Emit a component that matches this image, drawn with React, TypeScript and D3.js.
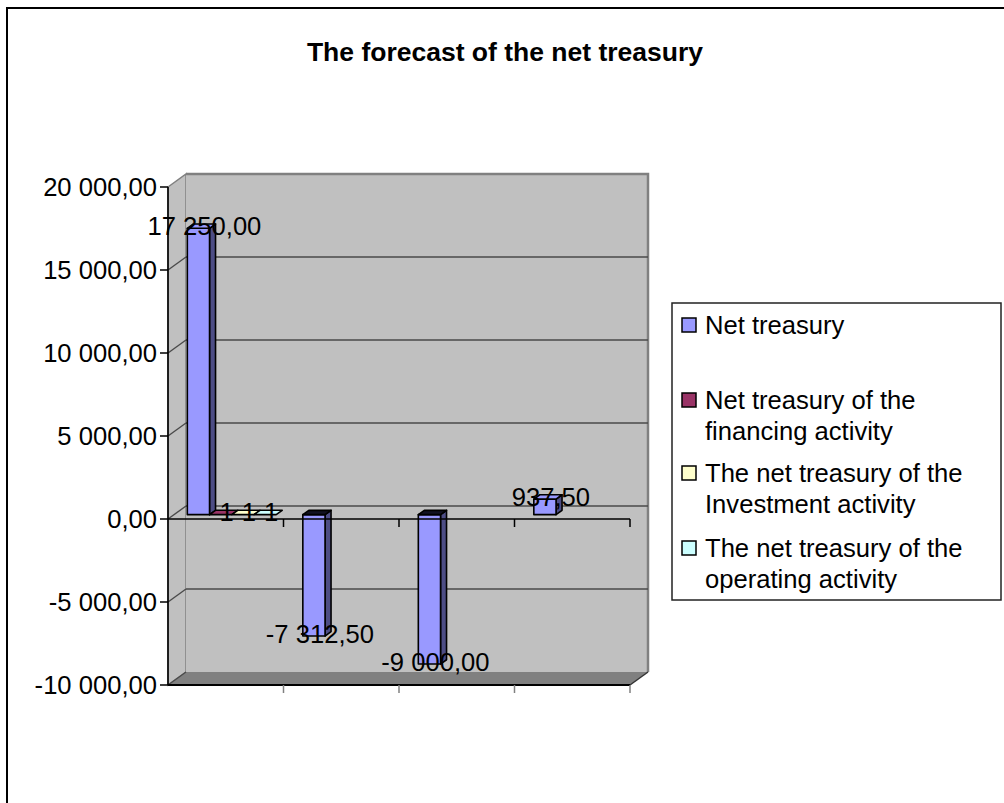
import React from "react";
import * as d3 from "d3";

const categories = ["P1", "P2", "P3", "P4"];
const seriesNames = [
  "Net treasury",
  "Net treasury of the financing activity",
  "The net treasury of the Investment activity",
  "The net treasury of the operating activity",
];
const legendLines = [
  ["Net treasury"],
  ["Net treasury of the", "financing activity"],
  ["The net treasury of the", "Investment activity"],
  ["The net treasury of the", "operating activity"],
];
const netTreasury = [17250, -7312.5, -9000, 937.5];
const financing = [1, null, null, null];
const investment = [1, null, null, null];
const operating = [1, null, null, null];
const seriesValues = [netTreasury, financing, investment, operating];
const seriesColors = ["#9999FF", "#993366", "#FFFFCC", "#CCFFFF"];
const seriesSide = ["#4d4d85", "#4d1933", "#80804d", "#668080"];
const yTicks = [-10000, -5000, 0, 5000, 10000, 15000, 20000];

const FONT = "'Liberation Sans', Arial, sans-serif";

const fmt2 = (v: number) =>
  d3
    .format(",.2f")(v)
    .replace(/,/g, " ")
    .replace(".", ",")
    .replace("\u2212", "-");
const labelFmt = (si: number, v: number) =>
  si === 0 ? fmt2(v) : d3.format("d")(v).replace("\u2212", "-");

export default function App() {
  const W = 1004, H = 803;
  const left = 168, right = 630, top = 187, bottom = 685;
  const DX = 18, DY = 13;
  const d1 = 1 / 3, d2 = 2 / 3;

  const y = d3.scaleLinear().domain([-10000, 20000]).range([bottom, top]);
  const x = d3.scaleBand<string>().domain(categories).range([left, right]).padding(0);
  const xs = d3
    .scaleBand<string>()
    .domain(seriesNames)
    .range([0, x.bandwidth()])
    .paddingInner(0)
    .paddingOuter(0.6);

  const P = (px: number, py: number, d: number) => [px + d * DX, py - d * DY];
  const poly = (pts: number[][]) => pts.map((p) => p.join(",")).join(" ");

  const y0 = y(0);
  const bars: React.ReactNode[] = [];
  const labels: React.ReactNode[] = [];

  seriesValues.forEach((vals, si) => {
    vals.forEach((v, ci) => {
      if (v === null || v === undefined) return;
      const x0 = (x(categories[ci]) as number) + (xs(seriesNames[si]) as number);
      const x1 = x0 + xs.bandwidth();
      const yv = y(v);
      const yTop = Math.min(yv, y0);
      const yBot = Math.max(yv, y0);
      const [fx0, fyT] = P(x0, yTop, d1);
      const [fx1, fyB] = P(x1, yBot, d1);
      const front = [
        [fx0, fyT], [fx1, fyT], [fx1, fyB], [fx0, fyB],
      ];
      const side = [P(x1, yTop, d1), P(x1, yTop, d2), P(x1, yBot, d2), P(x1, yBot, d1)];
      const topFace = [P(x0, yTop, d1), P(x1, yTop, d1), P(x1, yTop, d2), P(x0, yTop, d2)];
      const flat = Math.abs(yBot - yTop) < 1;
      const topFill = flat ? seriesColors[si] : v < 0 ? "#111122" : seriesColors[si];
      bars.push(
        <g key={`b${si}-${ci}`} stroke="#000" strokeWidth={1.6} strokeLinejoin="round">
          {!flat && <polygon points={poly(side)} fill={seriesSide[si]} />}
          {!flat && <polygon points={poly(front)} fill={seriesColors[si]} />}
          <polygon points={poly(topFace)} fill={topFill} />
        </g>
      );
      const [lx, ly] = P((x0 + x1) / 2, yv, 0.5);
      labels.push(
        <text
          key={`l${si}-${ci}`}
          x={lx + 3}
          y={ly}
          textAnchor="middle"
          dominantBaseline="central"
          fontSize={25.6}
          fontFamily={FONT}
          fill="#000"
        >
          {labelFmt(si, v)}
        </text>
      );
    });
  });

  const catTicks = categories.map((c) => (x(c) as number) + x.bandwidth());

  const legendItemY = [325, 400, 473, 548];

  return (
    <svg
      width={W}
      height={H}
      style={{ position: "absolute", left: 0, top: 0, background: "#fff" }}
      fontFamily={FONT}
    >
      <rect x={0} y={0} width={W} height={H} fill="#fff" />
      {/* outer chart frame */}
      <rect x={7} y={8} width={1200} height={1000} fill="none" stroke="#000" strokeWidth={2} />

      <text
        x={505}
        y={52}
        textAnchor="middle"
        dominantBaseline="central"
        fontWeight="bold"
        fontSize={26.5}
        fill="#000"
      >
        The forecast of the net treasury
      </text>

      {/* side wall */}
      <polygon
        points={poly([[left, top], P(left, top, 1), P(left, bottom, 1), [left, bottom]])}
        fill="#c0c0c0"
        stroke="#808080"
        strokeWidth={1.5}
      />
      {/* back wall */}
      <polygon
        points={poly([P(left, top, 1), P(right, top, 1), P(right, bottom, 1), P(left, bottom, 1)])}
        fill="#c0c0c0"
      />
      <polyline
        points={poly([P(left, top, 1), P(right, top, 1), P(right, bottom, 1)])}
        fill="none"
        stroke="#808080"
        strokeWidth={2.5}
      />
      {/* floor */}
      <polygon
        points={poly([[left, bottom], P(left, bottom, 1), P(right, bottom, 1), [right, bottom]])}
        fill="#808080"
      />
      <line x1={right} y1={bottom} x2={P(right, bottom, 1)[0]} y2={P(right, bottom, 1)[1]} stroke="#333" strokeWidth={1.5} />

      {/* gridlines */}
      {yTicks
        .filter((t) => t !== 20000 && t !== -10000)
        .map((t) => {
          const [gx0, gy] = P(left, y(t), 1);
          const [gx1] = P(right, y(t), 1);
          return (
            <g key={`g${t}`} stroke="#4a4a4a" strokeWidth={1.4}>
              <line x1={left} y1={y(t)} x2={gx0} y2={gy} />
              <line x1={gx0} y1={gy} x2={gx1} y2={gy} />
            </g>
          );
        })}
      <line x1={left} y1={bottom} x2={P(left, bottom, 1)[0]} y2={P(left, bottom, 1)[1]} stroke="#4a4a4a" strokeWidth={1.4} />

      {bars}

      {/* front zero category axis */}
      <line x1={left} y1={y0} x2={right} y2={y0} stroke="#000" strokeWidth={1.6} />
      {catTicks.map((cx, i) => (
        <line key={`ct${i}`} x1={cx} y1={y0} x2={cx} y2={y0 + 8} stroke="#000" strokeWidth={1.5} />
      ))}
      {/* bottom front edge */}
      <line x1={left} y1={bottom} x2={right} y2={bottom} stroke="#000" strokeWidth={1.8} />
      {catTicks.map((cx, i) => (
        <line key={`bt${i}`} x1={cx} y1={bottom} x2={cx} y2={bottom + 8} stroke="#808080" strokeWidth={1.5} />
      ))}

      {/* value axis */}
      <line x1={left} y1={top} x2={left} y2={bottom} stroke="#000" strokeWidth={1.6} />
      {yTicks.map((t) => (
        <g key={`yt${t}`}>
          <line x1={left - 8} y1={y(t)} x2={left} y2={y(t)} stroke="#000" strokeWidth={1.5} />
          <text
            x={157}
            y={y(t)}
            textAnchor="end"
            dominantBaseline="central"
            fontSize={25.6}
            fill="#000"
          >
            {fmt2(t)}
          </text>
        </g>
      ))}

      {labels}

      {/* legend */}
      <rect x={672} y={303} width={329} height={297} fill="#fff" stroke="#222" strokeWidth={1.5} />
      {legendLines.map((lines, i) => (
        <g key={`lg${i}`}>
          <rect
            x={682}
            y={legendItemY[i] - 7}
            width={14}
            height={14}
            fill={seriesColors[i]}
            stroke="#000"
            strokeWidth={1.5}
          />
          {lines.map((ln, k) => (
            <text
              key={k}
              x={705}
              y={legendItemY[i] + k * 31}
              dominantBaseline="central"
              fontSize={25.6}
              fill="#000"
            >
              {ln}
            </text>
          ))}
        </g>
      ))}
    </svg>
  );
}
